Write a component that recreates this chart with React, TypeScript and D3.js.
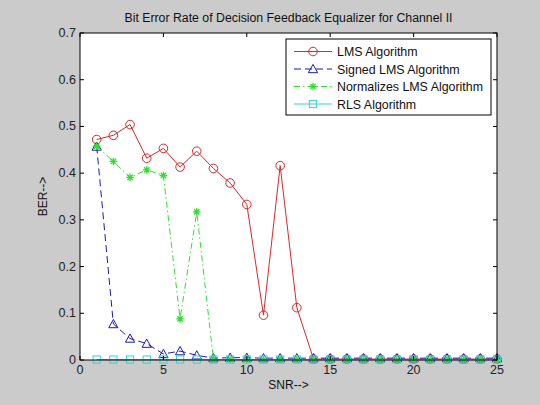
import React from "react";
import * as d3 from "d3";

const snr = [1,2,3,4,5,6,7,8,9,10,11,12,13,14,15,16,17,18,19,20,21,22,23,24,25];
const lms = [0.472,0.481,0.504,0.432,0.453,0.413,0.447,0.41,0.379,0.333,0.096,0.416,0.112,0.002,0.002,0.002,0.002,0.002,0.002,0.002,0.002,0.002,0.002,0.002,0.002];
const signedLms = [0.457,0.077,0.046,0.035,0.013,0.019,0.01,0.004,0.005,0.005,0.004,0.004,0.004,0.004,0.004,0.004,0.004,0.004,0.004,0.004,0.004,0.004,0.004,0.004,0.004];
const nlms = [0.458,0.425,0.391,0.407,0.395,0.088,0.317,0.001,0.001,0.001,0.001,0.001,0.001,0.001,0.001,0.001,0.001,0.001,0.001,0.001,0.001,0.001,0.001,0.001,0.001];
const rls = [0.001,0.001,0.001,0.001,0.001,0.001,0.001,0.001,0.001,0.001,0.001,0.001,0.001,0.001,0.001,0.001,0.001,0.001,0.001,0.001,0.001,0.001,0.001,0.001,0.001];
const seriesNames = ["LMS Algorithm","Signed LMS Algorithm","Normalizes LMS Algorithm","RLS Algorithm"];
const xTicks = [0,5,10,15,20,25];
const yTicks = [0,0.1,0.2,0.3,0.4,0.5,0.6,0.7];

const W = 540, H = 405;
const L = 80, R = 497, T = 33, B = 360;
const FONT = "'Liberation Sans', Arial, sans-serif";

type Marker = "circle" | "triangle" | "star" | "square";

function MarkerShape({ kind, x, y, color }: { kind: Marker; x: number; y: number; color: string }) {
  if (kind === "circle") return <circle cx={x} cy={y} r={4.3} fill="none" stroke={color} strokeWidth={1} />;
  if (kind === "triangle") {
    const s = 4.6;
    return <path d={`M${x},${y - s} L${x + s},${y + s * 0.8} L${x - s},${y + s * 0.8} Z`} fill="none" stroke={color} strokeWidth={1} />;
  }
  if (kind === "square") {
    const s = 3.6;
    return <rect x={x - s} y={y - s} width={2 * s} height={2 * s} fill="none" stroke={color} strokeWidth={1} />;
  }
  const s = 3.8;
  const d = s * 0.7;
  return (
    <path d={`M${x - s},${y} L${x + s},${y} M${x},${y - s} L${x},${y + s} M${x - d},${y - d} L${x + d},${y + d} M${x - d},${y + d} L${x + d},${y - d}`} stroke={color} strokeWidth={1.3} />
  );
}

export default function App() {
  const x = d3.scaleLinear().domain([0, 25]).range([L, R]);
  const y = d3.scaleLinear().domain([0, 0.7]).range([B, T]);
  const line = d3.line<[number, number]>().x(d => x(d[0])).y(d => y(d[1]));

  const series = [
    { name: seriesNames[0], vals: lms, color: "#d42a2a", dash: "none", marker: "circle" as Marker },
    { name: seriesNames[1], vals: signedLms, color: "#1c1ca8", dash: "7,4", marker: "triangle" as Marker },
    { name: seriesNames[2], vals: nlms, color: "#33dd33", dash: "6,3,1.5,3", marker: "star" as Marker },
    { name: seriesNames[3], vals: rls, color: "#33d6d6", dash: "none", marker: "square" as Marker },
  ];

  const legX = 286, legY = 39, legW = 205, legH = 76;

  return (
    <svg width={W} height={H} style={{ position: "absolute", left: 0, top: 0, display: "block" }} fontFamily={FONT}>
      <rect x={0} y={0} width={W} height={H} fill="#cbcbcb" />
      <rect x={L} y={T} width={R - L} height={B - T} fill="#ffffff" />
      <defs>
        <clipPath id="plotclip">
          <rect x={L - 6} y={T} width={R - L + 12} height={B - T + 6} />
        </clipPath>
      </defs>
      <g clipPath="url(#plotclip)">
        {series.map(s => {
          const pts = snr.map((v, i) => [v, s.vals[i]] as [number, number]);
          return (
            <g key={s.name}>
              <path d={line(pts) || ""} fill="none" stroke={s.color} strokeWidth={1} strokeDasharray={s.dash} />
              {pts.map((p, i) => (
                <MarkerShape key={i} kind={s.marker} x={x(p[0])} y={y(p[1])} color={s.color} />
              ))}
            </g>
          );
        })}
      </g>
      <rect x={L} y={T} width={R - L} height={B - T} fill="none" stroke="#000" strokeWidth={1} />
      {xTicks.map(t => (
        <g key={"x" + t}>
          <line x1={x(t)} x2={x(t)} y1={B} y2={B - 4} stroke="#000" />
          <line x1={x(t)} x2={x(t)} y1={T} y2={T + 4} stroke="#000" />
          <text x={x(t)} y={B + 14} textAnchor="middle" fontSize={12.5} fill="#222">{t}</text>
        </g>
      ))}
      {yTicks.map(t => (
        <g key={"y" + t}>
          <line x1={L} x2={L + 4} y1={y(t)} y2={y(t)} stroke="#000" />
          <line x1={R} x2={R - 4} y1={y(t)} y2={y(t)} stroke="#000" />
          <text x={L - 4} y={y(t) + 4} textAnchor="end" fontSize={12.5} fill="#222">{d3.format("")(+t.toFixed(1))}</text>
        </g>
      ))}
      <text x={(L + R) / 2} y={22} textAnchor="middle" fontSize={12.3} fill="#111">Bit Error Rate of Decision Feedback Equalizer for Channel II</text>
      <text x={(L + R) / 2} y={389} textAnchor="middle" fontSize={12} fill="#111">SNR--&gt;</text>
      <text transform={`translate(47,${(T + B) / 2}) rotate(-90)`} textAnchor="middle" fontSize={12} fill="#111">BER--&gt;</text>
      <g>
        <rect x={legX} y={legY} width={legW} height={legH} fill="#fff" stroke="#000" strokeWidth={1} />
        {series.map((s, i) => {
          const ly = legY + 12.5 + i * 17.5;
          return (
            <g key={"leg" + s.name}>
              <line x1={legX + 8} x2={legX + 46} y1={ly} y2={ly} stroke={s.color} strokeWidth={1} strokeDasharray={s.dash} />
              <MarkerShape kind={s.marker} x={legX + 27} y={ly} color={s.color} />
              <text x={legX + 51} y={ly + 4.5} fontSize={12.4} fill="#111">{s.name}</text>
            </g>
          );
        })}
      </g>
    </svg>
  );
}
